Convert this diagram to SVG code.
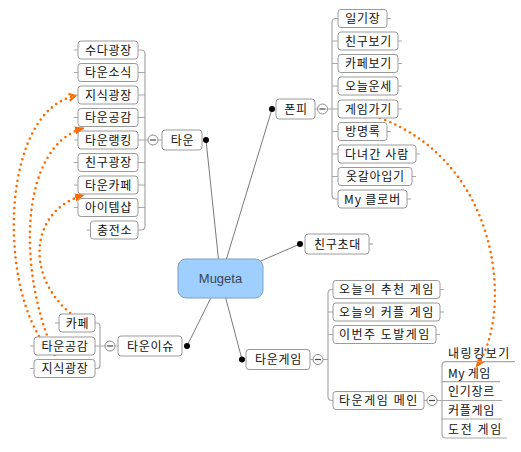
<svg xmlns="http://www.w3.org/2000/svg" width="521" height="452" viewBox="0 0 521 452">
<style>
.bx{fill:#fff;stroke:#9a9a9a;stroke-width:1}
.t{font-family:"Noto Sans CJK KR","Liberation Sans",sans-serif;font-size:12px;fill:#111;text-anchor:middle;letter-spacing:0.7px}
.tl{font-family:"Noto Sans CJK KR","Liberation Sans",sans-serif;font-size:12px;fill:#111;text-anchor:start;letter-spacing:0.7px}
.br{fill:none;stroke:#a8a8a8;stroke-width:1.2}
.ln{fill:none;stroke:#7a7a7a;stroke-width:1}
.dot{fill:#000}
.cc{fill:#fff;stroke:#8a8a8a;stroke-width:1}
.mn{stroke:#444;stroke-width:1.2}
.rel{fill:none;stroke:#ff6a00;stroke-width:2.6;stroke-linecap:round;stroke-dasharray:0 5.5}
</style>
<defs>
<marker id="tri" viewBox="0 0 10 10" refX="9" refY="5" markerWidth="10" markerHeight="10" markerUnits="userSpaceOnUse" orient="auto">
<path d="M0,1 L10,5 L0,9 Z" fill="#ff6a00"/>
</marker>
<marker id="chev" viewBox="0 0 10 10" refX="8" refY="5" markerWidth="10" markerHeight="10" markerUnits="userSpaceOnUse" orient="auto">
<path d="M2,1.5 L8,5 L2,8.5" fill="none" stroke="#ff6a00" stroke-width="2.2"/>
</marker>
</defs>

<g id="relationships">
<path class="rel" d="M39,336 C-2,268 5,110 75,96" marker-end="url(#chev)"/>
<path class="rel" d="M57,360 C15,270 20,145 84,128" marker-end="url(#tri)"/>
<path class="rel" d="M70,313 C25,275 30,210 84,195" marker-end="url(#tri)"/>
<path class="rel" d="M380,118 C505,165 512,320 476,367" marker-end="url(#tri)"/>
</g>

<g id="connectors">
<line class="ln" x1="220.5" y1="278.5" x2="206" y2="140"/>
<line class="ln" x1="220.5" y1="278.5" x2="272" y2="109"/>
<line class="ln" x1="220.5" y1="278.5" x2="300" y2="244"/>
<line class="ln" x1="220.5" y1="278.5" x2="242" y2="359.5"/>
<line class="ln" x1="220.5" y1="278.5" x2="187" y2="346"/>
<path class="br" d="M138,50 H141 Q145,50 145,54 V226 Q145,230 141,230 H138"/>
<path class="br" d="M138,72.5 H145 M138,95 H145 M138,117.5 H145 M138,140 H148 M138,162.5 H145 M138,185 H145 M138,207.5 H145 M158,140 H162"/>
<path class="br" d="M74,50 H78 M74,72.5 H78 M74,95 H78 M74,117.5 H78 M74,140 H78 M74,162.5 H78 M74,185 H78 M74,207.5 H78 M86.5,230 H90.5"/>
<path class="br" d="M338,18.5 H336 Q332,18.5 332,22.5 V195 Q332,199 336,199 H338"/>
<path class="br" d="M332,41 H338 M332,63.5 H338 M332,86 H338 M327.5,109 H338 M332,131.5 H338 M332,154 H338 M332,176.5 H338 M315,109 H317.5"/>
<path class="br" d="M387,18.5 H391 M398,41 H402 M398,63.5 H402 M398,86 H402 M398,109 H402 M387,131.5 H391 M416,154 H420 M412,176.5 H416 M407,199 H411"/>
<path class="br" d="M369,244 H373"/>
<path class="br" d="M333,289.5 H332 Q328,289.5 328,293.5 V396.5 Q328,400.5 332,400.5 H333"/>
<path class="br" d="M328,312 H333 M328,334.5 H333 M323,359.5 H328 M310,359.5 H313"/>
<path class="br" d="M440,289.5 H444 M440,312 H444 M436,334.5 H440 M424,400.5 H427"/>
<path class="br" d="M515,361.7 H446 Q442,361.7 442,365.7 V434 Q442,438 446,438 H507"/>
<path class="br" d="M442,381.7 H500 M437,400.5 H502 M442,419 H502"/>
<path class="br" d="M95,323 H97 Q100,323 100,326 V365.5 Q100,368.5 97,368.5 H95"/>
<path class="br" d="M95,346 H105 M115,346 H118"/>
<path class="br" d="M55,323 H59 M30,346 H34 M30,368.5 H34"/>
</g>

<g id="n-mugeta">
<rect x="178" y="259" width="85" height="39" rx="8" fill="#9fcfff" stroke="#7f9fc0" stroke-width="1"/>
<text x="220.5" y="283" font-family="Liberation Sans, Arial, sans-serif" font-size="13" fill="#3a4652" text-anchor="middle">Mugeta</text>
</g>

<g id="n-town">
<rect class="bx" x="162" y="130" width="40" height="20" rx="3"/>
<text class="t" x="182.4" y="144.5">타운</text>
<circle class="dot" cx="206" cy="140" r="3"/>
<circle class="cc" cx="153" cy="140" r="5"/><line class="mn" x1="150" y1="140" x2="156" y2="140"/>
</g>
<g id="n-town-1"><rect class="bx" x="78" y="41" width="60" height="18" rx="3"/><text class="t" x="108.4" y="54.5">수다광장</text></g>
<g id="n-town-2"><rect class="bx" x="78" y="63.5" width="60" height="18" rx="3"/><text class="t" x="108.4" y="77">타운소식</text></g>
<g id="n-town-3"><rect class="bx" x="78" y="86" width="60" height="18" rx="3"/><text class="t" x="108.4" y="99.5">지식광장</text></g>
<g id="n-town-4"><rect class="bx" x="78" y="108.5" width="60" height="18" rx="3"/><text class="t" x="108.4" y="122">타운공감</text></g>
<g id="n-town-5"><rect class="bx" x="78" y="131" width="60" height="18" rx="3"/><text class="t" x="108.4" y="144.5">타운랭킹</text></g>
<g id="n-town-6"><rect class="bx" x="78" y="153.5" width="60" height="18" rx="3"/><text class="t" x="108.4" y="167">친구광장</text></g>
<g id="n-town-7"><rect class="bx" x="78" y="176" width="60" height="18" rx="3"/><text class="t" x="108.4" y="189.5">타운카페</text></g>
<g id="n-town-8"><rect class="bx" x="78" y="198.5" width="60" height="18" rx="3"/><text class="t" x="108.4" y="212">아이템샵</text></g>
<g id="n-town-9"><rect class="bx" x="90.5" y="221" width="47.5" height="18" rx="3"/><text class="t" x="114.6" y="234.5">충전소</text></g>

<g id="n-phone">
<rect class="bx" x="276" y="99" width="39" height="20" rx="3"/>
<text class="t" x="295.9" y="113.5">폰피</text>
<circle class="dot" cx="272" cy="109" r="3"/>
<circle class="cc" cx="322.5" cy="109" r="5"/><line class="mn" x1="319.5" y1="109" x2="325.5" y2="109"/>
</g>
<g id="n-phone-1"><rect class="bx" x="338" y="9.5" width="49" height="18" rx="3"/><text class="t" x="362.9" y="23">일기장</text></g>
<g id="n-phone-2"><rect class="bx" x="338" y="32" width="60" height="18" rx="3"/><text class="t" x="368.4" y="45.5">친구보기</text></g>
<g id="n-phone-3"><rect class="bx" x="338" y="54.5" width="60" height="18" rx="3"/><text class="t" x="368.4" y="68">카페보기</text></g>
<g id="n-phone-4"><rect class="bx" x="338" y="77" width="60" height="18" rx="3"/><text class="t" x="368.4" y="90.5">오늘운세</text></g>
<g id="n-phone-5"><rect class="bx" x="338" y="100" width="60" height="18" rx="3"/><text class="t" x="368.4" y="113.5">게임가기</text></g>
<g id="n-phone-6"><rect class="bx" x="338" y="122.5" width="49" height="18" rx="3"/><text class="t" x="362.9" y="136">방명록</text></g>
<g id="n-phone-7"><rect class="bx" x="338" y="145" width="78" height="18" rx="3"/><text class="t" x="377" y="158.5" textLength="64" lengthAdjust="spacing">다녀간 사람</text></g>
<g id="n-phone-8"><rect class="bx" x="338" y="167.5" width="74" height="18" rx="3"/><text class="t" x="375.4" y="181">옷갈아입기</text></g>
<g id="n-phone-9"><rect class="bx" x="338" y="190" width="69" height="18" rx="3"/><text class="t" x="372.5" y="203.5" textLength="57" lengthAdjust="spacing">My 클로버</text></g>

<g id="n-invite">
<rect class="bx" x="305" y="234" width="64" height="20" rx="3"/>
<text class="t" x="337.4" y="248.5">친구초대</text>
<circle class="dot" cx="300" cy="244" r="3"/>
</g>

<g id="n-game">
<rect class="bx" x="246" y="349.5" width="64" height="20" rx="3"/>
<text class="t" x="278.4" y="364">타운게임</text>
<circle class="dot" cx="242" cy="359.5" r="3"/>
<circle class="cc" cx="318" cy="359.5" r="5"/><line class="mn" x1="315" y1="359.5" x2="321" y2="359.5"/>
</g>
<g id="n-game-1"><rect class="bx" x="333" y="280.5" width="107" height="18" rx="3"/><text class="t" x="386.5" y="294" textLength="95" lengthAdjust="spacing">오늘의 추천 게임</text></g>
<g id="n-game-2"><rect class="bx" x="333" y="303" width="107" height="18" rx="3"/><text class="t" x="386.5" y="316.5" textLength="95" lengthAdjust="spacing">오늘의 커플 게임</text></g>
<g id="n-game-3"><rect class="bx" x="333" y="325.5" width="103" height="18" rx="3"/><text class="t" x="384.5" y="339" textLength="91" lengthAdjust="spacing">이번주 도발게임</text></g>
<g id="n-game-4">
<rect class="bx" x="333" y="391.5" width="91" height="18" rx="3"/><text class="t" x="378.5" y="405" textLength="79" lengthAdjust="spacing">타운게임 메인</text>
<circle class="cc" cx="432" cy="400.5" r="5"/><line class="mn" x1="429" y1="400.5" x2="435" y2="400.5"/>
</g>
<g id="n-main-1"><text class="tl" x="448" y="357.7" textLength="62" lengthAdjust="spacing">내링킹보기</text></g>
<g id="n-main-2"><text class="tl" x="448" y="377.7" textLength="43" lengthAdjust="spacing">My 게임</text></g>
<g id="n-main-3"><text class="tl" x="448" y="396">인기장르</text></g>
<g id="n-main-4"><text class="tl" x="448" y="415">커플게임</text></g>
<g id="n-main-5"><text class="tl" x="448" y="434" textLength="54" lengthAdjust="spacing">도전 게임</text></g>

<g id="n-issue">
<rect class="bx" x="118" y="336" width="64" height="20" rx="3"/>
<text class="t" x="150.4" y="350.5">타운이슈</text>
<circle class="dot" cx="187" cy="346" r="3"/>
<circle class="cc" cx="110" cy="346" r="5"/><line class="mn" x1="107" y1="346" x2="113" y2="346"/>
</g>
<g id="n-issue-1"><rect class="bx" x="59" y="314" width="36" height="18" rx="3"/><text class="t" x="77.4" y="327.5">카페</text></g>
<g id="n-issue-2"><rect class="bx" x="34" y="337" width="61" height="18" rx="3"/><text class="t" x="64.9" y="350.5">타운공감</text></g>
<g id="n-issue-3"><rect class="bx" x="34" y="359.5" width="61" height="18" rx="3"/><text class="t" x="64.9" y="373">지식광장</text></g>
</svg>
